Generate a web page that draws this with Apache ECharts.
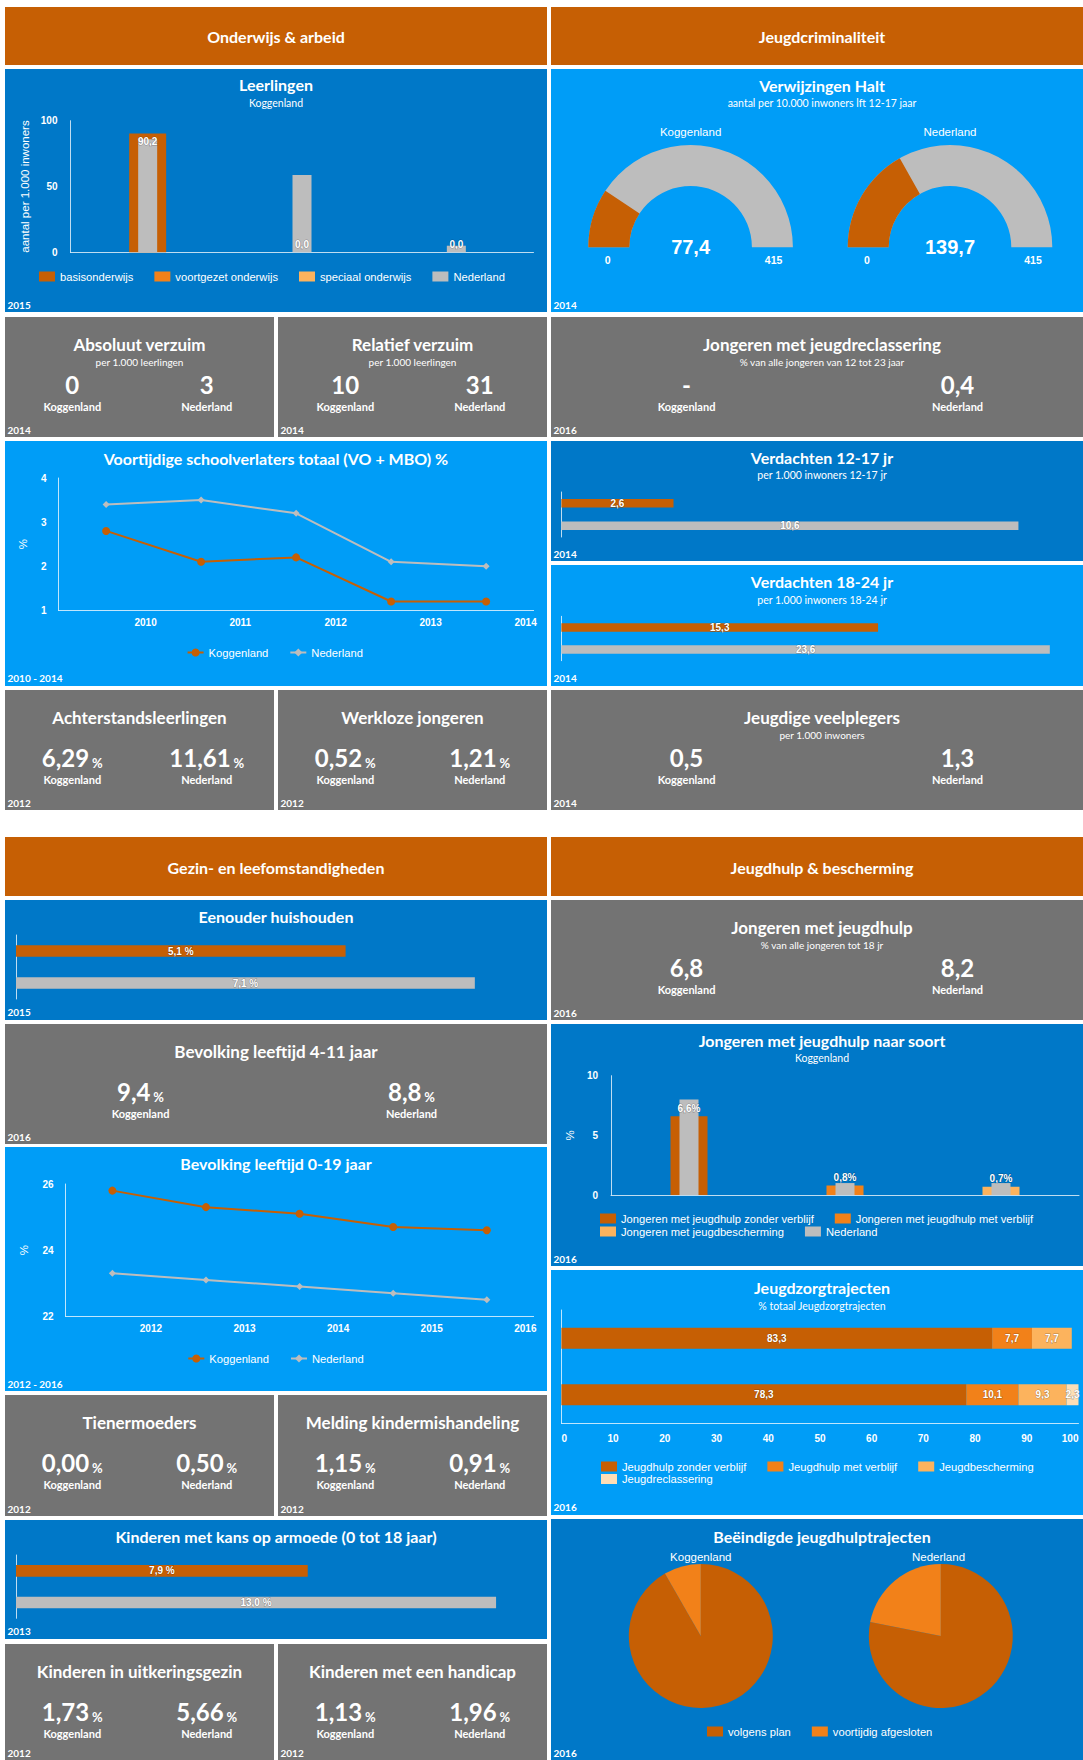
<!DOCTYPE html>
<html>
<head>
<meta charset="utf-8">
<title>Jeugdmonitor Koggenland</title>
<script src="https://cdn.jsdelivr.net/npm/echarts@6/dist/echarts.min.js"></script>
<style>
  html, body { margin: 0; padding: 0; background: #fff; }
  #chart { width: 1083px; height: 1760px; }
</style>
</head>
<body>
<div id="chart"></div>
<script>
// ---------- data ----------
const regions = ['Koggenland', 'Nederland'];

const leerCats = ['basisonderwijs', 'voortgezet onderwijs', 'speciaal onderwijs'];
const leerKoggenland = [90.2, 0.0, 0.0];
const leerNederland = [85.9, 58.7, 5.0];
const leerTicks = [0, 50, 100];

const haltValues = [77.4, 139.7];
const haltRange = [0, 415];

const schoolYears = ['2010', '2011', '2012', '2013', '2014'];
const schoolKoggenland = [2.8, 2.1, 2.2, 1.2, 1.2];
const schoolNederland = [3.4, 3.5, 3.2, 2.1, 2.0];
const schoolTicks = [1, 2, 3, 4];

const verdachten1217 = [2.6, 10.6];
const verdachten1824 = [15.3, 23.6];
const eenouder = [5.1, 7.1];
const armoede = [7.9, 13.0];
// hidden value-axis maxima of the four pair bar charts
const pairMax = [12, 25, 8, 14];

const bevYears = ['2012', '2013', '2014', '2015', '2016'];
const bevKoggenland = [25.8, 25.3, 25.1, 24.7, 24.6];
const bevNederland = [23.3, 23.1, 22.9, 22.7, 22.5];
const bevTicks = [22, 24, 26];

const soortCats = ['Jongeren met jeugdhulp zonder verblijf', 'Jongeren met jeugdhulp met verblijf', 'Jongeren met jeugdbescherming'];
const soortKoggenland = [6.6, 0.8, 0.7];
const soortNederland = [8.0, 1.0, 1.0];
const soortTicks = [0, 5, 10];

const trajectNames = ['Jeugdhulp zonder verblijf', 'Jeugdhulp met verblijf', 'Jeugdbescherming', 'Jeugdreclassering'];
const trajectKoggenland = [83.3, 7.7, 7.7, 0];
const trajectNederland = [78.3, 10.1, 9.3, 2.3];
const trajectTicks = [0, 10, 20, 30, 40, 50, 60, 70, 80, 90, 100];

const pieNames = ['volgens plan', 'voortijdig afgesloten'];
const pieKoggenland = [91.7, 8.3];
const pieNederland = [78.1, 21.9];

const tileTitles = ['Absoluut verzuim', 'Relatief verzuim', 'Jongeren met jeugdreclassering',
  'Achterstandsleerlingen', 'Werkloze jongeren', 'Jeugdige veelplegers',
  'Bevolking leeftijd 4-11 jaar', 'Jongeren met jeugdhulp',
  'Tienermoeders', 'Melding kindermishandeling', 'Kinderen in uitkeringsgezin', 'Kinderen met een handicap'];
const tileSubtitles = ['per 1.000 leerlingen', 'per 1.000 leerlingen', '% van alle jongeren van 12 tot 23 jaar',
  '', '', 'per 1.000 inwoners', '', '% van alle jongeren tot 18 jr', '', '', '', ''];
const tileKoggenland = [0, 10, null, 6.29, 0.52, 0.5, 9.4, 6.8, 0.00, 1.15, 1.73, 1.13];
const tileNederland = [3, 31, 0.4, 11.61, 1.21, 1.3, 8.8, 8.2, 0.50, 0.91, 5.66, 1.96];
const tileDecimals = [0, 0, 1, 2, 2, 1, 1, 1, 2, 2, 2, 2];
const tileUnits = ['', '', '', '%', '%', '', '%', '', '%', '%', '%', '%'];
const tileYears = ['2014', '2014', '2016', '2012', '2012', '2014', '2016', '2016', '2012', '2012', '2012', '2012'];

// ---------- style ----------
const FONT = 'Lato, "Noto Sans", sans-serif';
const SANS = '"Liberation Sans", Arial, sans-serif';
const C = {
  orange: '#C65F04', orangeMid: '#F28119', orangeLight: '#FCB35D', orangePale: '#FDDEB6',
  grey: '#BDBDBD', blueDark: '#0078C8', blueLight: '#009DF7', tile: '#737373',
  white: '#FFFFFF', axis: 'rgba(255,255,255,0.75)'
};

const fmt = (v, d = 1) => v.toFixed(d).replace('.', ',');

const graphics = [], grids = [], xAxes = [], yAxes = [], series = [], legends = [];

function rect(x, y, w, h, fill) {
  graphics.push({ type: 'rect', z: -1, silent: true, shape: { x, y, width: w, height: h }, style: { fill } });
}

function label(str, x, y, font, align = 'center') {
  graphics.push({
    type: 'text', z: 50, silent: true, x, y,
    style: { text: str, font, fill: C.white, align, verticalAlign: 'middle', textAlign: align, textVerticalAlign: 'middle' }
  });
}

function valueText(str, unit, x, y) {
  graphics.push({
    type: 'text', z: 50, silent: true, x, y,
    style: {
      text: unit ? '{v|' + str + '} {u|' + unit + '}' : '{v|' + str + '}',
      fill: C.white, font: 'bold 12px ' + FONT,
      align: 'center', verticalAlign: 'middle', textAlign: 'center', textVerticalAlign: 'middle',
      rich: {
        v: { fontFamily: FONT, fontWeight: 'bold', fontSize: 24, lineHeight: 26, fill: C.white, verticalAlign: 'bottom' },
        u: { fontFamily: FONT, fontWeight: 'bold', fontSize: 13, lineHeight: 18, fill: C.white, verticalAlign: 'bottom' }
      }
    }
  });
}

const axisLine = { show: true, lineStyle: { color: C.axis, width: 1 } };
const tickLabel = { color: C.white, fontSize: 10, fontWeight: 'bold', fontFamily: SANS };
const nameStyle = { color: C.white, fontSize: 11.5, fontFamily: SANS };
const barLabel = { show: true, color: C.white, fontSize: 10, fontWeight: 'bold', fontFamily: SANS,
  textBorderColor: 'rgba(0,0,0,0.3)', textBorderWidth: 1 };

function addGrid(left, top, width, height) {
  grids.push({ left, top, width, height, outerBoundsMode: 'none' });
  return grids.length - 1;
}

function valueAxis(gridIndex, ticks, extra) {
  return Object.assign({
    gridIndex, type: 'value', min: ticks[0], max: ticks[ticks.length - 1], interval: ticks[1] - ticks[0],
    axisLine, axisTick: { show: false }, splitLine: { show: false }, axisLabel: { ...tickLabel }
  }, extra);
}

function addLegend(names, left, top, icon) {
  legends.push({
    data: names, left, top, orient: 'horizontal', padding: 0, icon,
    itemWidth: 16, itemHeight: 10, itemGap: 21, selectedMode: false,
    textStyle: { color: C.white, fontSize: 11.2, fontFamily: SANS },
    formatter: n => n.split('|').pop()
  });
}

// grouped vertical bars: Koggenland stacked per category, Nederland narrower on a twin axis
function groupedBars(key, box, cats, kog, ned, colors, ticks, yName, nameGap, suffix) {
  const g = addGrid(...box);
  const xa = xAxes.length;
  xAxes.push({ gridIndex: g, type: 'category', data: cats, axisLine, axisTick: { show: false }, axisLabel: { show: false } });
  xAxes.push({ gridIndex: g, type: 'category', data: cats, show: false });
  const ya = yAxes.length;
  yAxes.push(valueAxis(g, ticks, {
    name: yName, nameLocation: 'middle', nameGap, nameRotate: 90, nameTextStyle: nameStyle,
    axisLabel: { ...tickLabel, margin: 13 }
  }));
  cats.forEach((cat, i) => series.push({
    type: 'bar', name: key + '|' + cat, xAxisIndex: xa, yAxisIndex: ya, stack: key, barWidth: 37,
    itemStyle: { color: colors[i] },
    data: cats.map((c, j) => (j === i ? kog[i] : '-')),
    label: { ...barLabel, position: suffix === '' && kog[i] > 10 ? 'insideTop' : 'top', distance: 3,
      formatter: p => fmt(p.value) + suffix }
  }));
  series.push({ type: 'bar', name: key + '|Nederland', xAxisIndex: xa + 1, yAxisIndex: ya, barWidth: 19,
    itemStyle: { color: C.grey }, data: ned });
}

// Koggenland / Nederland horizontal pair
function pairBars(box, max, values, barWidth, unit) {
  const g = addGrid(...box);
  xAxes.push({ gridIndex: g, type: 'value', min: 0, max, show: false });
  yAxes.push({ gridIndex: g, type: 'category', data: regions, inverse: true, axisLine,
    axisTick: { show: false }, axisLabel: { show: false } });
  series.push({
    type: 'bar', xAxisIndex: xAxes.length - 1, yAxisIndex: yAxes.length - 1, barWidth,
    data: values.map((v, i) => ({ value: v, itemStyle: { color: i ? C.grey : C.orange } })),
    label: { ...barLabel, position: 'inside', formatter: p => fmt(p.value) + unit }
  });
}

function lineChart(key, box, years, kog, ned, ticks, nameGap, labelPad, legendLeft, legendTop) {
  const g = addGrid(...box);
  xAxes.push({ gridIndex: g, type: 'category', data: years, boundaryGap: true, axisLine, axisTick: { show: false },
    axisLabel: { ...tickLabel, interval: 0, align: 'left', padding: [0, 0, 0, labelPad], margin: 7 } });
  yAxes.push(valueAxis(g, ticks, { name: '%', nameLocation: 'middle', nameGap, nameRotate: 90,
    nameTextStyle: nameStyle, axisLabel: { ...tickLabel, margin: 12 } }));
  const xa = xAxes.length - 1, ya = yAxes.length - 1;
  series.push({ type: 'line', name: key + '|Koggenland', xAxisIndex: xa, yAxisIndex: ya, data: kog,
    symbol: 'circle', symbolSize: 8, color: C.orange, lineStyle: { width: 2 } });
  series.push({ type: 'line', name: key + '|Nederland', xAxisIndex: xa, yAxisIndex: ya, data: ned,
    symbol: 'diamond', symbolSize: 7, color: C.grey, lineStyle: { width: 2 } });
  addLegend([key + '|Koggenland', key + '|Nederland'], legendLeft, legendTop);
}

// ---------- panels ----------
const panels = [
  [5, 7, 542, 58, C.orange], [551, 7, 542, 58, C.orange],
  [5, 69, 542, 243, C.blueDark], [551, 69, 542, 243, C.blueLight],
  [5, 441, 542, 245, C.blueLight], [551, 441, 542, 120, C.blueDark], [551, 565, 542, 121, C.blueLight],
  [5, 837, 542, 59, C.orange], [551, 837, 542, 59, C.orange],
  [5, 900, 542, 120, C.blueDark], [5, 1147, 542, 244, C.blueLight], [5, 1520, 542, 119, C.blueDark],
  [551, 1024, 542, 242, C.blueDark], [551, 1270, 542, 245, C.blueLight], [551, 1519, 542, 245, C.blueDark]
];
panels.forEach(p => rect(...p));

const tileBoxes = [
  [5, 317, 269, 120], [278, 317, 269, 120], [551, 317, 542, 120],
  [5, 690, 269, 120], [278, 690, 269, 120], [551, 690, 542, 120],
  [5, 1024, 542, 120], [551, 900, 542, 120],
  [5, 1395, 269, 121], [278, 1395, 269, 121], [5, 1644, 269, 120], [278, 1644, 269, 120]
];
tileBoxes.forEach(([x, y, w, h], i) => {
  rect(x, y, w, h, C.tile);
  label(tileTitles[i], x + w / 2, y + 27, 'bold 17px ' + FONT);
  if (tileSubtitles[i]) label(tileSubtitles[i], x + w / 2, y + 45, '10px ' + FONT);
  [tileKoggenland[i], tileNederland[i]].forEach((v, k) => {
    const cx = x + w * (k ? 0.75 : 0.25);
    valueText(v == null ? '-' : fmt(v, tileDecimals[i]), v == null ? '' : tileUnits[i], cx, y + 66);
    label(regions[k], cx, y + 89, 'bold 11px ' + FONT);
  });
  label(tileYears[i], x + 2.5, Math.min(y + h - 7.5, 1753), 'bold 10px ' + FONT, 'left');
});

// section headers
[['Onderwijs & arbeid', 276, 36], ['Jeugdcriminaliteit', 822, 36],
 ['Gezin- en leefomstandigheden', 276, 867], ['Jeugdhulp & bescherming', 822, 867]]
  .forEach(([t, x, y]) => label(t, x, y, 'bold 16px ' + FONT));

// chart titles: text, subtitle, centre x, title y, subtitle y
[
  ['Leerlingen', 'Koggenland', 276, 84.5, 102.5],
  ['Verwijzingen Halt', 'aantal per 10.000 inwoners lft 12-17 jaar', 822, 85, 102.5],
  ['Voortijdige schoolverlaters totaal (VO + MBO) %', '', 276, 458],
  ['Verdachten 12-17 jr', 'per 1.000 inwoners 12-17 jr', 822, 457, 475],
  ['Verdachten 18-24 jr', 'per 1.000 inwoners 18-24 jr', 822, 581.5, 600],
  ['Eenouder huishouden', '', 276, 916],
  ['Bevolking leeftijd 0-19 jaar', '', 276, 1163.5],
  ['Kinderen met kans op armoede (0 tot 18 jaar)', '', 276, 1536],
  ['Jongeren met jeugdhulp naar soort', 'Koggenland', 822, 1040, 1057.5],
  ['Jeugdzorgtrajecten', '% totaal Jeugdzorgtrajecten', 822, 1287, 1305.5],
  ['Beëindigde jeugdhulptrajecten', '', 822, 1536]
].forEach(([t, s, x, y, sy]) => {
  label(t, x, y, 'bold 16px ' + FONT);
  if (s) label(s, x, sy, '10.5px ' + FONT);
});

// period labels in the bottom-left corners
[['2015', 7.5, 305], ['2014', 553.5, 305], ['2010 - 2014', 7.5, 677.5], ['2014', 553.5, 553.5],
 ['2014', 553.5, 677.5], ['2015', 7.5, 1012], ['2012 - 2016', 7.5, 1383.5], ['2013', 7.5, 1631],
 ['2016', 553.5, 1258.5], ['2016', 553.5, 1507], ['2016', 553.5, 1753]]
  .forEach(([t, x, y]) => label(t, x, y, 'bold 10px ' + FONT, 'left'));

// ---------- charts ----------
groupedBars('leer', [70.5, 120.7, 463, 131.6], leerCats, leerKoggenland, leerNederland,
  [C.orange, C.orangeMid, C.orangeLight], leerTicks, 'aantal per 1.000 inwoners', 40, '');
addLegend(leerCats.map(c => 'leer|' + c).concat('leer|Nederland'), 39, 271, 'rect');

// Verwijzingen Halt gauges
const gaugeX = [690.6, 950];
haltValues.forEach((v, k) => {
  series.push({
    type: 'gauge', name: 'halt|' + regions[k], center: [gaugeX[k], 247.3], radius: 102.3,
    startAngle: 180, endAngle: 0, min: haltRange[0], max: haltRange[1], splitNumber: 1,
    progress: { show: true, width: 41, itemStyle: { color: C.orange } },
    axisLine: { lineStyle: { width: 41, color: [[1, C.grey]] } },
    pointer: { show: false }, anchor: { show: false }, axisTick: { show: false },
    splitLine: { show: false }, axisLabel: { show: false },
    title: { offsetCenter: [0, -115], color: C.white, fontSize: 11.5, fontFamily: SANS },
    detail: { offsetCenter: [0, 0], formatter: val => fmt(val), color: C.white, fontSize: 20,
      fontWeight: 'bold', fontFamily: SANS },
    data: [{ value: v, name: regions[k] }]
  });
  label(String(haltRange[0]), gaugeX[k] - 83, 260, 'bold 10.5px ' + SANS);
  label(String(haltRange[1]), gaugeX[k] + 83, 260, 'bold 10.5px ' + SANS);
});

lineChart('school', [58.6, 478, 475, 132.3], schoolYears, schoolKoggenland, schoolNederland,
  schoolTicks, 29.5, 28.4, 186.6, 647);

pairBars([561.4, 492, 517.4, 45], pairMax[0], verdachten1217, 8.5, '');
pairBars([561.4, 616.3, 517.4, 44.4], pairMax[1], verdachten1824, 8.5, '');
pairBars([16, 935, 517, 64], pairMax[2], eenouder, 11.7, ' %');
pairBars([16, 1555, 517, 63.3], pairMax[3], armoede, 11.7, ' %');

lineChart('bev', [65.6, 1184, 468, 132.3], bevYears, bevKoggenland, bevNederland,
  bevTicks, 35.7, 27.4, 187.3, 1353);

groupedBars('soort', [611, 1075.7, 468, 119.3], soortCats, soortKoggenland, soortNederland,
  [C.orange, C.orangeMid, C.orangeLight], soortTicks, '%', 35.5, '%');
addLegend(['soort|' + soortCats[0], 'soort|' + soortCats[1]], 600, 1213, 'rect');
addLegend(['soort|' + soortCats[2], 'soort|Nederland'], 600, 1226, 'rect');

// Jeugdzorgtrajecten: stacked 100% bars
const tg = addGrid(561.4, 1310, 517.1, 113);
xAxes.push({ gridIndex: tg, type: 'value', min: trajectTicks[0], max: trajectTicks[trajectTicks.length - 1],
  interval: trajectTicks[1] - trajectTicks[0], axisLine, axisTick: { show: false }, splitLine: { show: false },
  axisLabel: { ...tickLabel, margin: 10, alignMinLabel: 'left', alignMaxLabel: 'right' } });
yAxes.push({ gridIndex: tg, type: 'category', data: regions, inverse: true, axisLine,
  axisTick: { show: false }, axisLabel: { show: false } });
const trajectColors = [C.orange, C.orangeMid, C.orangeLight, C.orangePale];
trajectNames.forEach((n, i) => series.push({
  type: 'bar', name: 'traject|' + n, xAxisIndex: xAxes.length - 1, yAxisIndex: yAxes.length - 1,
  stack: 'traject', barWidth: 21, itemStyle: { color: trajectColors[i] },
  data: [trajectKoggenland[i], trajectNederland[i]],
  label: { ...barLabel, position: 'inside', formatter: p => (p.value ? fmt(p.value) : '') }
}));
addLegend(trajectNames.slice(0, 3).map(n => 'traject|' + n), 601, 1461, 'rect');
addLegend(['traject|' + trajectNames[3]], 601, 1473.5, 'rect');

// Beëindigde jeugdhulptrajecten pies
const pieX = [700.8, 940.8];
[pieKoggenland, pieNederland].forEach((vals, k) => {
  series.push({
    type: 'pie', name: 'pie|' + regions[k], center: [pieX[k], 1636], radius: 72,
    startAngle: 90, clockwise: true, label: { show: false }, labelLine: { show: false },
    emphasis: { disabled: true },
    data: pieNames.map((n, i) => ({ name: n, value: vals[i], itemStyle: { color: [C.orange, C.orangeMid][i] } }))
  });
  label(regions[k], pieX[k] - (k ? 2.3 : 0), 1556.5, '11.5px ' + SANS);
});
addLegend(pieNames, 707, 1726, 'rect');

// ---------- render ----------
const chart = echarts.init(document.getElementById('chart'), null, { renderer: 'svg' });
chart.setOption({
  animation: false,
  backgroundColor: '#FFFFFF',
  textStyle: { fontFamily: SANS },
  graphic: { elements: graphics },
  grid: grids,
  xAxis: xAxes,
  yAxis: yAxes,
  legend: legends,
  series
});
window.addEventListener('resize', () => chart.resize());
</script>
</body>
</html>
